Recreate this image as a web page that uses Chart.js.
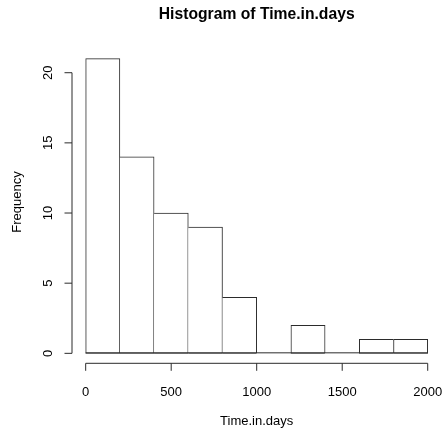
<!DOCTYPE html>
<html>
<head>
<meta charset="utf-8">
<script src="https://cdn.jsdelivr.net/npm/chart.js@4.4.1/dist/chart.umd.min.js"></script>
<style>
html, body { margin: 0; padding: 0; background: #fff; }
#wrap { width: 444px; height: 431px; }
</style>
</head>
<body>
<div id="wrap"><canvas id="histChart"></canvas></div>
<script>
// Histogram bins (mid points, width 200) and counts
const binMids = [100, 300, 500, 700, 900, 1100, 1300, 1500, 1700, 1900];
const counts = [21, 14, 10, 9, 4, 0, 2, 0, 1, 1];
const xTicks = [0, 500, 1000, 1500, 2000];
const yTicks = [0, 5, 10, 15, 20];

const FONT = '"Liberation Sans", Arial, Helvetica, sans-serif';
const LINE = '#2b2b2b';

// R style axes: detached lines that run from first to last tick
const rAxes = {
    id: 'rAxes',
    afterDraw(chart) {
        const ctx = chart.ctx;
        const xs = chart.scales.x;
        const ys = chart.scales.y;
        const area = chart.chartArea;
        const tick = 7.5;

        ctx.save();
        ctx.strokeStyle = LINE;
        ctx.lineWidth = 1;
        ctx.fillStyle = '#000';

        // zero line under the bars
        const y0 = ys.getPixelForValue(0) - 0.5;
        ctx.beginPath();
        ctx.moveTo(xs.getPixelForValue(0), y0);
        ctx.lineTo(xs.getPixelForValue(2000), y0);
        ctx.stroke();

        // x axis
        const xv = xs.ticks.map(t => xs.getPixelForValue(t.value));
        const ay = area.bottom;
        ctx.beginPath();
        ctx.moveTo(xv[0], ay);
        ctx.lineTo(xv[xv.length - 1], ay);
        xv.forEach(px => {
            ctx.moveTo(px, ay);
            ctx.lineTo(px, ay + tick);
        });
        ctx.stroke();

        ctx.font = '13px ' + FONT;
        ctx.textAlign = 'center';
        ctx.textBaseline = 'middle';
        xs.ticks.forEach((t, i) => ctx.fillText(String(t.value), xv[i], 392));

        // y axis
        const yv = ys.ticks.map(t => ys.getPixelForValue(t.value));
        const ax = area.left;
        ctx.beginPath();
        ctx.moveTo(ax, yv[0]);
        ctx.lineTo(ax, yv[yv.length - 1]);
        yv.forEach(py => {
            ctx.moveTo(ax, py);
            ctx.lineTo(ax - tick, py);
        });
        ctx.stroke();

        ys.ticks.forEach((t, i) => {
            ctx.save();
            ctx.translate(48, yv[i]);
            ctx.rotate(-Math.PI / 2);
            ctx.fillText(String(t.value), 0, 0);
            ctx.restore();
        });

        // titles
        ctx.fillText('Time.in.days', (area.left + area.right) / 2, 421.5);

        ctx.save();
        ctx.translate(17, 202);
        ctx.rotate(-Math.PI / 2);
        ctx.fillText('Frequency', 0, 0);
        ctx.restore();

        ctx.font = 'bold 15.7px ' + FONT;
        ctx.fillText('Histogram of Time.in.days', (area.left + area.right) / 2, 14.5);

        ctx.restore();
    }
};

const ctx = document.getElementById('histChart').getContext('2d');

new Chart(ctx, {
    type: 'bar',
    data: {
        datasets: [{
            data: binMids.map((m, i) => ({ x: m, y: counts[i] })),
            backgroundColor: '#ffffff',
            borderColor: LINE,
            borderSkipped: false,
            // the line between two bars is drawn once, by the taller one
            borderWidth: c => {
                const i = c.dataIndex;
                const cur = counts[i];
                const prev = counts[i - 1];
                const next = counts[i + 1];
                return {
                    top: 1,
                    bottom: 1,
                    left: (prev === undefined || prev <= cur) ? 1 : 0,
                    right: (next === undefined || next < cur) ? 1 : 0
                };
            },
            barPercentage: 1,
            categoryPercentage: 1,
            grouped: false
        }]
    },
    options: {
        responsive: true,
        maintainAspectRatio: false,
        animation: false,
        events: [],
        layout: {
            padding: { left: 72, right: 2.6, top: 46.9, bottom: 67.7 }
        },
        plugins: {
            legend: { display: false },
            tooltip: { enabled: false },
            title: { display: false }
        },
        scales: {
            x: {
                type: 'linear',
                min: -80,
                max: 2080,
                offset: false,
                afterBuildTicks: s => { s.ticks = xTicks.map(v => ({ value: v })); },
                afterFit: s => { s.height = 0; },
                ticks: { display: false },
                grid: { display: false },
                border: { display: false }
            },
            y: {
                min: -0.71,
                max: 21.84,
                afterBuildTicks: s => { s.ticks = yTicks.map(v => ({ value: v })); },
                afterFit: s => { s.width = 0; },
                ticks: { display: false },
                grid: { display: false },
                border: { display: false }
            }
        }
    },
    plugins: [rAxes]
});
</script>
</body>
</html>
